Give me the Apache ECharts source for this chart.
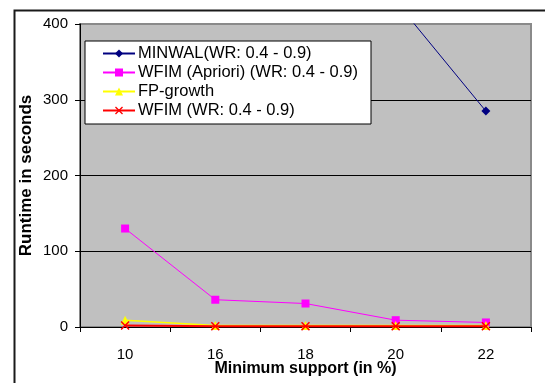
<!DOCTYPE html>
<html><head><meta charset="utf-8">
<script src="https://cdn.jsdelivr.net/npm/echarts@6/dist/echarts.min.js"></script>
<style>html,body{margin:0;padding:0;background:#fff}#c{width:545px;height:383px}</style>
</head><body><div id="c"></div>
<script>
var categories = ['10', '16', '18', '20', '22'];
var minwal = [null, null, null, 430, 285];
var wfimApriori = [130, 36, 31, 9, 6];
var fpGrowth = [9, 2, 2, 2, 2];
var wfim = [2, 1, 1, 1, 1];
var seriesNames = ['MINWAL(WR: 0.4 - 0.9)', 'WFIM (Apriori) (WR: 0.4 - 0.9)', 'FP-growth', 'WFIM (WR: 0.4 - 0.9)'];

var FONT = '"Liberation Sans", Arial, sans-serif';
var xPath = 'path://M0,1.2L1.2,0L5,3.8L8.8,0L10,1.2L6.2,5L10,8.8L8.8,10L5,6.2L1.2,10L0,8.8L3.8,5Z';

var chart = echarts.init(document.getElementById('c'), null, {renderer: 'canvas'});
chart.setOption({
  animation: false,
  backgroundColor: '#fff',
  textStyle: {fontFamily: FONT},
  graphic: [{
    type: 'rect', left: 12, top: 8, shape: {x: 0, y: 0, width: 600, height: 420},
    style: {fill: 'none', stroke: '#1a1a1a', lineWidth: 2}, z: -1, silent: true
  }],
  grid: {
    left: 80, right: 14, top: 24, bottom: 56,
    containLabel: false, outerBoundsMode: 'none',
    show: true, backgroundColor: '#C0C0C0', borderColor: '#8a8a8a', borderWidth: 2
  },
  legend: {
    orient: 'vertical', left: 85, top: 41,
    padding: [4, 13, 5, 17],
    backgroundColor: '#fff', borderColor: '#000', borderWidth: 1,
    itemWidth: 32, itemHeight: 10, itemGap: 2,
    textStyle: {fontFamily: FONT, fontSize: 16.5, color: '#000', lineHeight: 16, padding: [0, 0, 0, -2]},
    data: seriesNames
  },
  xAxis: {
    type: 'category', data: categories, boundaryGap: true,
    name: 'Minimum support (in %)', nameLocation: 'middle', nameGap: 34, nameMoveOverlap: false,
    nameTextStyle: {fontFamily: FONT, fontSize: 16, fontWeight: 'bold', color: '#000'},
    axisLine: {lineStyle: {color: '#000', width: 1}},
    axisTick: {show: true, length: 5, interval: 0, lineStyle: {color: '#000'}},
    axisLabel: {fontFamily: FONT, fontSize: 15, color: '#000', margin: 20},
    splitLine: {show: false}
  },
  yAxis: {
    type: 'value', min: 0, max: 400, interval: 100,
    name: 'Runtime in seconds', nameLocation: 'middle', nameGap: 45, nameRotate: 90, nameMoveOverlap: false,
    nameTextStyle: {fontFamily: FONT, fontSize: 17, fontWeight: 'bold', color: '#000'},
    axisLine: {show: true, lineStyle: {color: '#000', width: 1}},
    axisTick: {show: true, length: 5, lineStyle: {color: '#000'}},
    axisLabel: {fontFamily: FONT, fontSize: 15, color: '#000', margin: 12},
    splitLine: {show: true, lineStyle: {color: ['#000', '#000', '#000', '#000', '#8a8a8a'], width: 1}}
  },
  series: [
    {name: seriesNames[0], type: 'line', data: minwal, symbol: 'diamond', symbolSize: 9,
     itemStyle: {color: '#000080'}, lineStyle: {color: '#000080', width: 1}, z: 2},
    {name: seriesNames[1], type: 'line', data: wfimApriori, symbol: 'rect', symbolSize: 8,
     itemStyle: {color: '#FF00FF'}, lineStyle: {color: '#FF00FF', width: 1}, z: 3},
    {name: seriesNames[2], type: 'line', data: fpGrowth, symbol: 'triangle', symbolSize: 9,
     itemStyle: {color: '#FFFF00'}, lineStyle: {color: '#FFFF00', width: 1.5}, z: 4},
    {name: seriesNames[3], type: 'line', data: wfim, symbol: xPath, symbolSize: 9,
     itemStyle: {color: '#FF0000'}, lineStyle: {color: '#FF0000', width: 2}, z: 5}
  ]
});
</script></body></html>
